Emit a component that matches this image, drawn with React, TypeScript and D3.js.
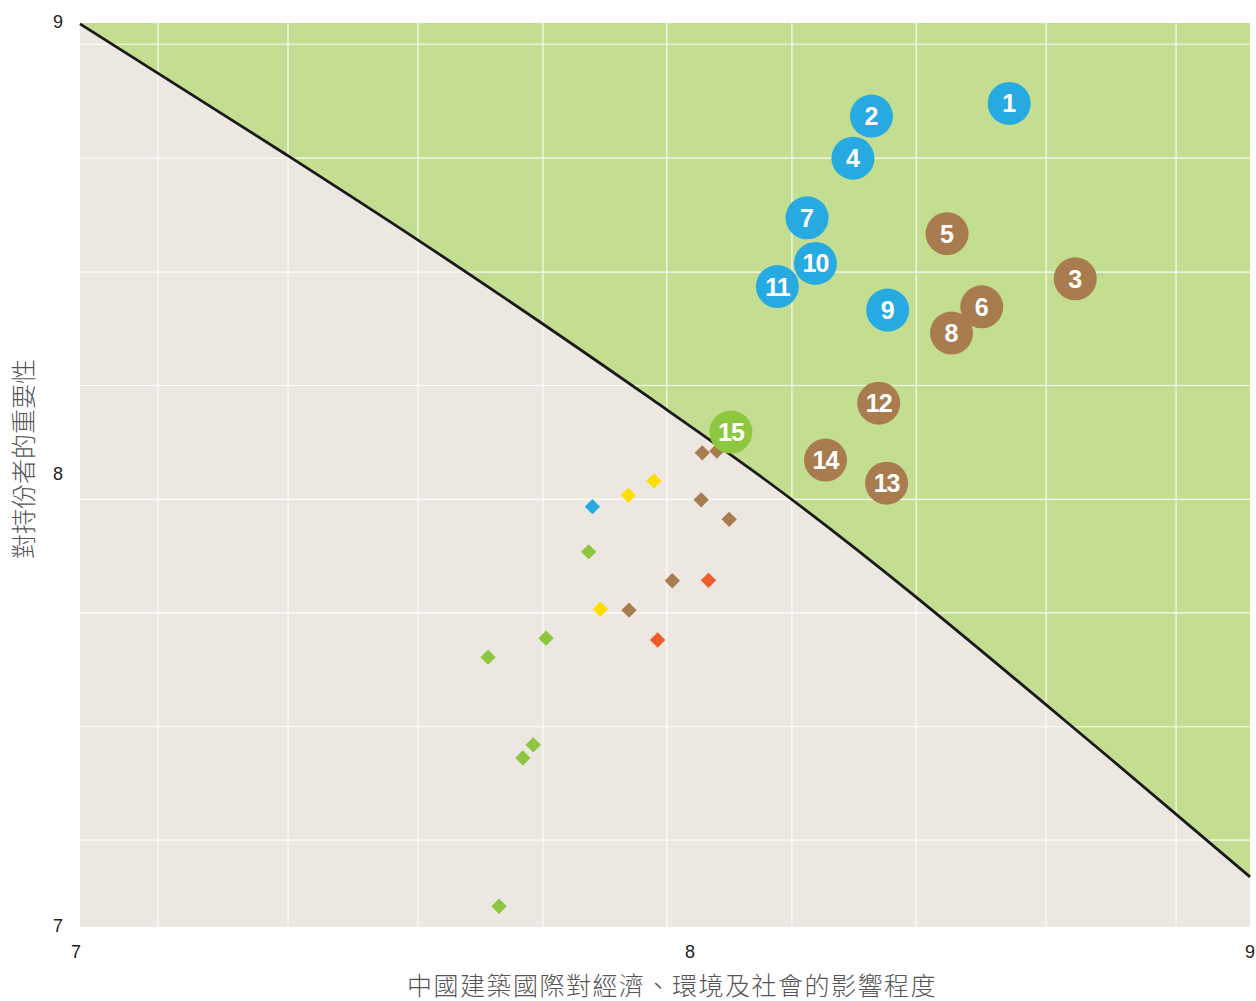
import { useMemo } from 'react';
import * as d3 from 'd3';

// tick labels
const xTicks = [7, 8, 9];
const yTicks = [7, 8, 9];

// decorative grid positions (in data units)
const xGrid = [7.128, 7.341, 7.554, 7.759, 7.962, 8.182, 8.404, 8.636, 8.868];
const yGrid = [7.192, 7.443, 7.695, 7.946, 8.198, 8.449, 8.701, 8.953];

// boundary curve between the two zones
const boundaryX = [7, 7.339, 7.556, 7.939, 8.125, 8.754, 9];
const boundaryY = [8.998, 8.708, 8.518, 8.166, 7.998, 7.369, 7.111];

// numbered material topics
const topicIds = [1, 2, 3, 4, 5, 6, 7, 8, 9, 10, 11, 12, 13, 14, 15];
const topicX = [8.57, 8.324, 8.688, 8.291, 8.459, 8.521, 8.209, 8.467, 8.353, 8.224, 8.156, 8.337, 8.351, 8.242, 8.073];
const topicY = [8.822, 8.794, 8.434, 8.701, 8.534, 8.372, 8.569, 8.314, 8.365, 8.468, 8.417, 8.159, 7.982, 8.033, 8.095];
const topicGroup = ['blue', 'blue', 'brown', 'blue', 'brown', 'brown', 'blue', 'brown', 'blue', 'blue', 'blue', 'brown', 'brown', 'brown', 'green'];

// other (non-material) topics
const minorX = [8.022, 8.048, 7.941, 7.899, 7.84, 8.02, 8.07, 7.834, 7.971, 8.033, 7.853, 7.9, 7.947, 7.764, 7.669, 7.743, 7.726, 7.687];
const minorY = [8.049, 8.053, 7.987, 7.955, 7.93, 7.945, 7.902, 7.83, 7.766, 7.767, 7.703, 7.701, 7.635, 7.639, 7.597, 7.403, 7.374, 7.046];
const minorGroup = ['brown', 'brown', 'yellow', 'yellow', 'blue', 'brown', 'brown', 'green', 'brown', 'red', 'yellow', 'brown', 'red', 'green', 'green', 'green', 'green', 'green'];

const colors: Record<string, string> = {
    blue: '#27aae1',
    brown: '#a97c50',
    green: '#8dc63f',
    yellow: '#ffdd00',
    red: '#f15a29',
};

export default function App() {
    const width = 1256;
    const height = 1001;
    const left = 80;
    const right = 1250;
    const top = 23;
    const bottom = 927;

    const x = d3.scaleLinear().domain([7, 8, 9]).range([left, 690, right]);
    const y = d3.scaleLinear().domain([7, 9]).range([bottom, top]);

    const boundary = useMemo(() => boundaryX.map((v, i) => [v, boundaryY[i]] as [number, number]), []);

    const curve = d3.line<[number, number]>()
        .x(d => x(d[0]))
        .y(d => y(d[1]))
        .curve(d3.curveMonotoneX);

    const upper = d3.area<[number, number]>()
        .x(d => x(d[0]))
        .y0(top)
        .y1(d => y(d[1]))
        .curve(d3.curveMonotoneX);

    const diamond = d3.symbol().type(d3.symbolDiamond2).size(150)();

    return (
        <svg width={width} height={height} style={{ position: 'absolute', left: 0, top: 0 }}
            fontFamily="'Liberation Sans', Arial, sans-serif">
            {/* zones */}
            <rect x={left} y={top} width={right - left} height={bottom - top} fill="#ece7e1" />
            <path d={upper(boundary) ?? ''} fill="#c4de91" />

            {/* grid */}
            {xGrid.map(v => (
                <line key={'gx' + v} x1={x(v)} x2={x(v)} y1={top} y2={bottom} stroke="#fff" strokeWidth={1.2} opacity={0.9} />
            ))}
            {yGrid.map(v => (
                <line key={'gy' + v} x1={left} x2={right} y1={y(v)} y2={y(v)} stroke="#fff" strokeWidth={1.2} opacity={0.9} />
            ))}

            {/* boundary line */}
            <path d={curve(boundary) ?? ''} fill="none" stroke="#1a1a1a" strokeWidth={2.8} />

            {/* minor topics */}
            {minorX.map((v, i) => (
                <path key={'m' + i} d={diamond ?? ''} transform={`translate(${x(v)},${y(minorY[i])})`}
                    fill={colors[minorGroup[i]]} />
            ))}

            {/* numbered topics */}
            {topicIds.map((id, i) => (
                <g key={'t' + id} transform={`translate(${x(topicX[i])},${y(topicY[i])})`}>
                    <circle r={21.5} fill={colors[topicGroup[i]]} />
                    <text textAnchor="middle" dy="0.36em" fill="#fff" fontSize={25} fontWeight="bold"
                        letterSpacing={id > 9 ? -1 : 0}>{id}</text>
                </g>
            ))}

            {/* axis tick labels */}
            {xTicks.map(v => (
                <text key={'xt' + v} x={x(v) + (v === 7 ? -4 : 0)} y={958} textAnchor="middle" fontSize={18} fill="#222">{v}</text>
            ))}
            {yTicks.map(v => (
                <text key={'yt' + v} x={58} y={y(v) - 1} dy="0.36em" textAnchor="middle" fontSize={18} fill="#222">{v}</text>
            ))}

            {/* axis titles */}
            <text x={672} y={995} textAnchor="middle" fontSize={25} fill="#555"
                fontFamily="'Noto Sans CJK TC', sans-serif" fontWeight={300} letterSpacing={1.5}>
                中國建築國際對經濟、環境及社會的影響程度
            </text>
            <text transform="translate(33,459) rotate(-90)" textAnchor="middle" fontSize={25} fill="#555"
                fontFamily="'Noto Sans CJK TC', sans-serif" fontWeight={300}>
                對持份者的重要性
            </text>
        </svg>
    );
}
